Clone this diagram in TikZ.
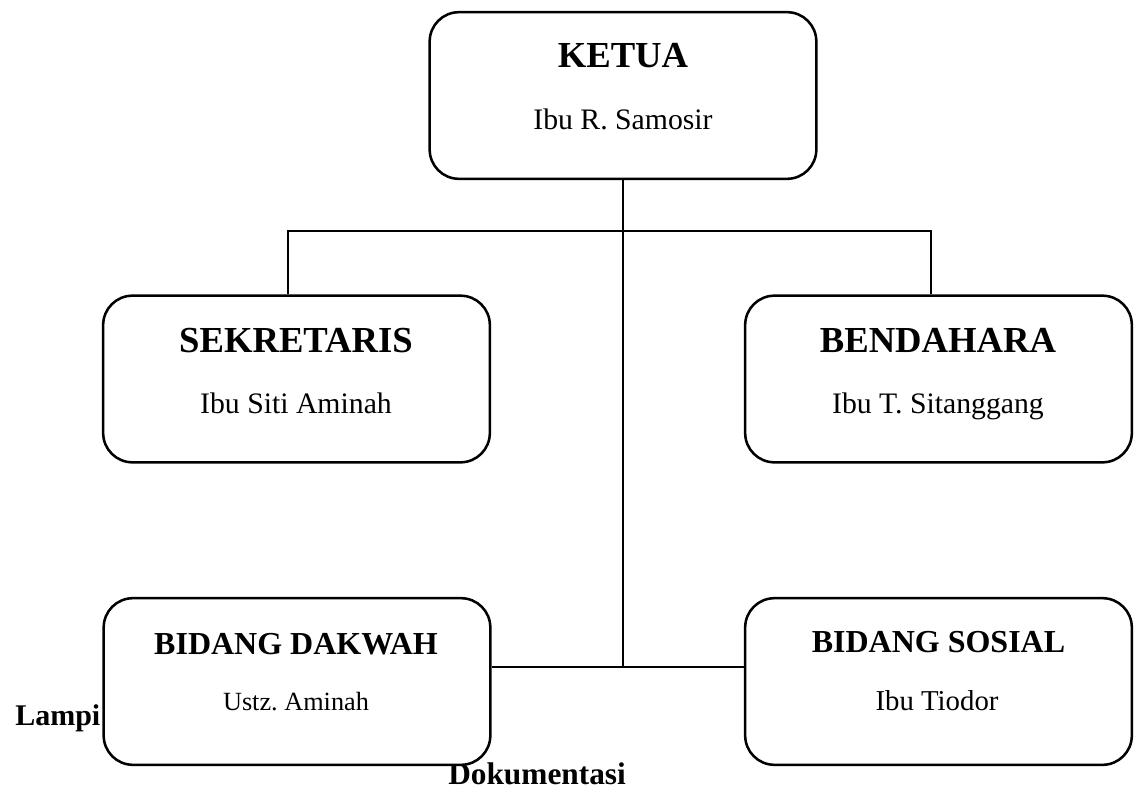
\documentclass[tikz,border=0pt]{standalone}
\usepackage{fontspec}
\setmainfont{Liberation Serif}
\begin{document}
\begin{tikzpicture}[x=0.75pt,y=-0.75pt,
  jabatan/.style={draw,line width=1.9pt,rounded corners=22pt,fill=white,minimum width=290pt,minimum height=125pt,inner sep=0pt},
  judul/.style={anchor=base,inner sep=0pt,font=\bfseries\fontsize{27.5}{30}\selectfont},
  nama/.style={anchor=base,inner sep=0pt,font=\fontsize{22.3}{26}\selectfont},
  garis/.style={line width=1.3pt}]
\useasboundingbox (0,0) rectangle (1136,789);
\node[anchor=base west,inner sep=0pt,font=\bfseries\fontsize{22.5}{26}\selectfont] (lampiran) at (15,725) {Lampi};
\node[anchor=base west,inner sep=0pt,font=\bfseries\fontsize{23.5}{26}\selectfont] (dokumentasi) at (448,784) {Dokumentasi};
\node[jabatan] (ketua) at (623,95.5) {};
\node[jabatan] (sekretaris) at (296.5,379) {};
\node[jabatan] (bendahara) at (938.5,379) {};
\node[jabatan] (dakwah) at (297,681.5) {};
\node[jabatan] (sosial) at (938.5,681.5) {};
\node[judul] (ketuaJ) at (623,67) {KETUA};
\node[nama] (ketuaN) at (623,129) {Ibu R. Samosir};
\node[judul] (sekretarisJ) at (296,352) {SEKRETARIS};
\node[nama] (sekretarisN) at (296,413) {Ibu Siti Aminah};
\node[judul] (bendaharaJ) at (938,352) {BENDAHARA};
\node[nama] (bendaharaN) at (938,413) {Ibu T. Sitanggang};
\node[judul,font=\bfseries\fontsize{24}{28}\selectfont] (dakwahJ) at (296,654) {BIDANG DAKWAH};
\node[nama,font=\fontsize{19.7}{24}\selectfont] (dakwahN) at (296,710) {Ustz.\ Aminah};
\node[judul,font=\bfseries\fontsize{24}{28}\selectfont] (sosialJ) at (938.5,652) {BIDANG SOSIAL};
\node[nama,font=\fontsize{21.6}{24}\selectfont] (sosialN) at (937,710) {Ibu Tiodor};
\coordinate (simpul) at (623,667);
\coordinate (cabangKiri) at (288,231);
\coordinate (cabangKanan) at (931,231);
\draw[garis] (ketua.south) -- (simpul);
\draw[garis] (dakwah.east |- simpul) -- (sosial.west |- simpul);
\draw[garis] (sekretaris.north -| cabangKiri) -- (cabangKiri) -- (cabangKanan) -- (bendahara.north -| cabangKanan);
\end{tikzpicture}
\end{document}
